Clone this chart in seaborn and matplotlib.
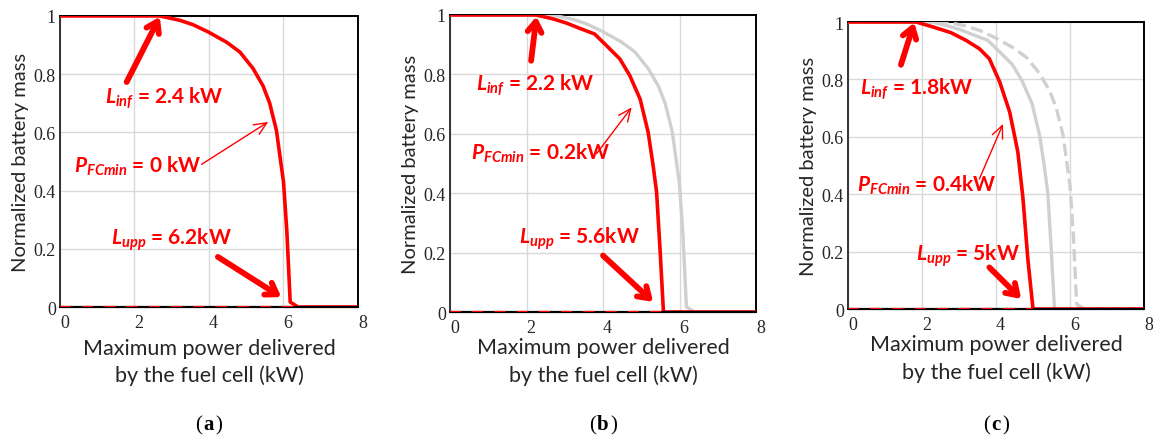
import numpy as np
import pandas as pd
import matplotlib
matplotlib.use("Agg")
import matplotlib.pyplot as plt
from matplotlib.offsetbox import TextArea, HPacker, AnchoredOffsetbox
import seaborn as sns

# Normalized battery mass versus maximum fuel-cell power, for three P_FCmin values
x_p0 = [0, 2.68, 3.22, 3.57, 3.98, 4.47, 4.83, 5.18, 5.45, 5.63, 5.81, 6.0, 6.09, 6.18, 6.39, 8]
y_p0 = [1, 1.0, 0.985, 0.97, 0.945, 0.91, 0.876, 0.82, 0.76, 0.70, 0.607, 0.43, 0.26, 0.017, 0.0, 0]

x_p02 = [0, 2.25, 2.69, 3.04, 3.39, 3.78, 4.09, 4.44, 4.70, 4.97, 5.18, 5.31, 5.40, 5.49, 5.58, 8]
y_p02 = [1, 1.0, 0.987, 0.973, 0.955, 0.936, 0.897, 0.852, 0.796, 0.717, 0.605, 0.493, 0.404, 0.213, 0.0, 0]

x_p04 = [0, 1.84, 2.29, 2.78, 3.19, 3.55, 3.82, 4.10, 4.37, 4.59, 4.73, 4.86, 5.0, 8]
y_p04 = [1, 1.0, 0.983, 0.963, 0.936, 0.907, 0.872, 0.791, 0.686, 0.547, 0.384, 0.174, 0.0, 0]

x_ticks = [0, 2, 4, 6, 8]
y_ticks = [0, 0.2, 0.4, 0.6, 0.8, 1]
y_ticklabels = ["0", "0.2", "0.4", "0.6", "0.8", "1"]

panel_tags = ["a", "b", "c"]
l_inf = ["2.4 kW", "2.2 kW", "1.8kW"]
p_fcmin = ["0 kW", "0.2kW", "0.4kW"]
l_upp = ["6.2kW", "5.6kW", "5kW"]

RED = "#ff0000"
GREY = "#d0d0d0"
SANS = "Lato"

sns.set_style("white")
plt.rcParams["font.family"] = ["Liberation Serif", "DejaVu Serif"]
plt.rcParams["mathtext.fontset"] = "custom"
plt.rcParams["mathtext.bfit"] = "Lato:italic:bold"
plt.rcParams["mathtext.it"] = "Lato:italic:bold"
plt.rcParams["mathtext.rm"] = "Lato:bold"

curves = {
    "p0": pd.DataFrame({"x": x_p0, "y": y_p0}),
    "p02": pd.DataFrame({"x": x_p02, "y": y_p02}),
    "p04": pd.DataFrame({"x": x_p04, "y": y_p04}),
}

# main curve, background curves (key, dashed) per panel
panels = [
    ("p0", []),
    ("p02", [("p0", False)]),
    ("p04", [("p02", False), ("p0", True)]),
]

# axes rectangles in figure fraction
rects = [
    [0.052, 0.2984, 0.2585, 0.663],
    [0.3903, 0.287, 0.2654, 0.6766],
    [0.7355, 0.2938, 0.2567, 0.6538],
]

# annotation layouts (text pos, arrow tail, arrow head) in data units
ann_inf = [((1.21, 0.72), (1.79, 0.773), (2.68, 0.997)),
           ((0.68, 0.768), (2.12, 0.846), (2.26, 0.995)),
           ((0.32, 0.77), (1.43, 0.851), (1.79, 0.998))]
ann_pfc = [((0.375, 0.487), (3.80, 0.49), (5.59, 0.636)),
           ((0.55, 0.538), (3.83, 0.533), (4.75, 0.689)),
           ((0.23, 0.436), (3.55, 0.453), (4.19, 0.645))]
ann_upp = [((1.37, 0.233), (4.24, 0.172), (5.94, 0.034)),
           ((1.80, 0.249), (4.0, 0.19), (5.31, 0.034)),
           ((1.84, 0.19), (3.82, 0.145), (4.68, 0.035))]

THICK = dict(arrowstyle="->,head_length=0.75,head_width=0.5",
             color=RED, lw=4.2, shrinkA=0, shrinkB=0)
THIN = dict(arrowstyle="->,head_length=0.9,head_width=0.4",
            color=RED, lw=1.0, shrinkA=0, shrinkB=0)

fig = plt.figure(figsize=(11.53, 4.39), dpi=100)

for i, (main, backs) in enumerate(panels):
    ax = fig.add_axes(rects[i])
    ax.set_xlim(0, 8)
    ax.set_ylim(0, 1)
    ax.grid(True, color="#d9d9d9", lw=1.0)
    ax.set_axisbelow(True)

    for key, dashed in backs:
        sns.lineplot(data=curves[key], x="x", y="y", ax=ax, color=GREY,
                     lw=2.4, linestyle="--" if dashed else "-",
                     sort=False, estimator=None, zorder=3)

    df = curves[main]
    sns.lineplot(data=df, x="x", y="y", ax=ax, color=RED, lw=2.6,
                 sort=False, estimator=None, zorder=4)

    # dashed lower boundary of the feasible region along zero mass
    x_end = df["x"][df["y"] <= 0].iloc[0]
    base = pd.DataFrame({"x": [0, x_end], "y": [0, 0]})
    ax.axhline(0, color="black", lw=1.6, zorder=5, clip_on=False)
    sns.lineplot(data=base, x="x", y="y", ax=ax, color=RED, lw=1.6,
                 linestyle=(0, (5, 5)), sort=False, estimator=None,
                 zorder=6)

    for s in ax.spines.values():
        s.set_color("black")
        s.set_linewidth(1.4)
    ax.spines["left"].set_color("#333333")

    ax.set_xticks(x_ticks)
    ax.set_xticklabels([str(t) for t in x_ticks], fontsize=13, ha="left")
    ax.set_yticks(y_ticks)
    ax.set_yticklabels(y_ticklabels, fontsize=13)
    ax.tick_params(length=0, pad=3)
    ax.tick_params(axis="x", pad=5)

    ax.set_xlabel("Maximum power delivered\nby the fuel cell (kW)",
                  fontfamily=SANS, fontsize=15.5, linespacing=1.4,
                  labelpad=1 if i else 5)
    ax.set_ylabel("Normalized battery mass", fontfamily=SANS, fontsize=14.5,
                  labelpad=3)

    tk = dict(color=RED, fontsize=15, fontweight="bold", fontfamily=SANS,
              va="center", ha="left", zorder=8)
    (tx, ty), tail, head = ann_inf[i]
    ax.text(tx, ty, r"$\mathbfit{L}_{\mathbfit{inf}}$ = " + l_inf[i], **tk)
    ax.annotate("", xy=head, xytext=tail, arrowprops=THICK)
    (tx, ty), tail, head = ann_pfc[i]
    ax.text(tx, ty, r"$\mathbfit{P}_{\mathbfit{FCmin}}$ = " + p_fcmin[i], **tk)
    ax.annotate("", xy=head, xytext=tail, arrowprops=THIN)
    (tx, ty), tail, head = ann_upp[i]
    ax.text(tx, ty, r"$\mathbfit{L}_{\mathbfit{upp}}$ = " + l_upp[i], **tk)
    ax.annotate("", xy=head, xytext=tail, arrowprops=THICK)

    # sub-figure tag "(a)" with bold letter
    tag_props = dict(fontsize=15, color="black")
    parts = [TextArea("(", textprops=tag_props),
             TextArea(panel_tags[i], textprops=dict(tag_props, fontweight="bold")),
             TextArea(")", textprops=tag_props)]
    box = HPacker(children=parts, pad=0, sep=1, align="baseline")
    cx = rects[i][0] + rects[i][2] / 2
    anchored = AnchoredOffsetbox(loc="center", child=box, pad=0, frameon=False,
                                 bbox_to_anchor=(cx, 1 - 425 / 439),
                                 bbox_transform=fig.transFigure,
                                 borderpad=0)
    fig.add_artist(anchored)

fig.savefig("out.png", dpi=100)
